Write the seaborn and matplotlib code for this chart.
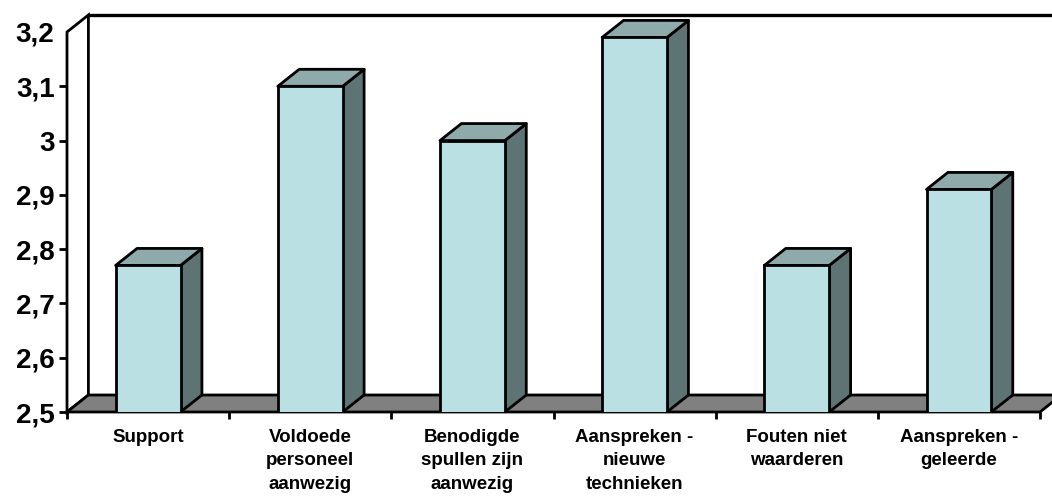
import numpy as np
import matplotlib
matplotlib.use("Agg")
import matplotlib.pyplot as plt
from matplotlib.patches import Polygon
import seaborn as sns

# Data
categorieen = ['Support', 'Voldoede\npersoneel\naanwezig', 'Benodigde\nspullen zijn\naanwezig',
               'Aanspreken -\nnieuwe\ntechnieken', 'Fouten niet\nwaarderen', 'Aanspreken -\ngeleerde']
waarden = [2.77, 3.10, 3.00, 3.19, 2.77, 2.91]
y_ticks = [2.5, 2.6, 2.7, 2.8, 2.9, 3.0, 3.1, 3.2]
y_labels = ['2,5', '2,6', '2,7', '2,8', '2,9', '3', '3,1', '3,2']

# Style
sns.set_style("white")
plt.rcParams['font.family'] = ['Liberation Sans', 'DejaVu Sans']
plt.rcParams['font.weight'] = 'bold'
plt.rcParams['text.color'] = 'black'
plt.rcParams['xtick.color'] = 'black'
plt.rcParams['ytick.color'] = 'black'

kleur_voor = '#BBE0E3'
kleur_zij = '#5E7373'
kleur_top = '#8FAAAA'
kleur_vloer = '#808080'

ymin, ymax = 2.5, 3.2
dx, dy = 0.132, 0.0313          # depth offset (3D look)
bw = 0.40                        # bar width
lw = 2.0

fig = plt.figure(figsize=(10.52, 4.98), dpi=100)
ax = fig.add_axes([67/1052, 86/498, 985/1052, 397/498])

# ============================================================================
# Walls and floor
# ============================================================================
n = len(categorieen)
x0, x1 = -0.5, n - 0.5
wand = Polygon([(x0, ymin), (x0, ymax), (x0 + dx, ymax + dy), (x0 + dx, ymin + dy)],
               closed=True, facecolor='white', edgecolor='black', lw=lw, zorder=1, clip_on=False)
ax.add_patch(wand)
vloer = Polygon([(x0, ymin), (x1, ymin), (x1 + dx, ymin + dy), (x0 + dx, ymin + dy)],
                closed=True, facecolor=kleur_vloer, edgecolor='black', lw=lw, zorder=1.5, clip_on=False)
ax.add_patch(vloer)
ax.plot([x0 + dx, x1 + 1], [ymax + dy, ymax + dy], color='black', lw=2.4, zorder=1,
        clip_on=False, solid_capstyle='butt')

# ============================================================================
# Bars (front faces via seaborn, side/top faces as polygons)
# ============================================================================
sns.barplot(x=list(range(n)), y=waarden, width=bw, color=kleur_voor, saturation=1,
            edgecolor='black', linewidth=lw, ax=ax, native_scale=True, zorder=4)

for i, v in enumerate(waarden):
    l, r = i - bw / 2, i + bw / 2
    zij = Polygon([(r, ymin), (r, v), (r + dx, v + dy), (r + dx, ymin + dy)], closed=True,
                  facecolor=kleur_zij, edgecolor='black', lw=lw, zorder=3, joinstyle='round')
    top = Polygon([(l, v), (r, v), (r + dx, v + dy), (l + dx, v + dy)], closed=True,
                  facecolor=kleur_top, edgecolor='black', lw=lw, zorder=3, joinstyle='round')
    ax.add_patch(zij)
    ax.add_patch(top)

# ============================================================================
# Axes, ticks and labels
# ============================================================================
ax.set_xlim(x0, x0 + 985 / 162.17)
ax.set_ylim(ymin, ymax + dy)
for s in ax.spines.values():
    s.set_visible(False)

ax.set_yticks(y_ticks)
ax.set_yticklabels(y_labels, fontsize=20, fontweight='bold', color='black')
ax.tick_params(axis='y', direction='out', length=6, width=lw, pad=3, left=True)
ax.yaxis.get_major_ticks()[-1].tick1line.set_visible(False)

ax.set_xticks(range(n))
ax.set_xticklabels(categorieen, fontsize=13.5, fontweight='bold', linespacing=1.5, color='black')
ax.set_xticks(np.arange(x0, x1 + 0.01, 1), minor=True)
ax.tick_params(axis='x', which='major', length=0, pad=12, bottom=True)
ax.tick_params(axis='x', which='minor', direction='out', length=5, width=lw, bottom=True)
ax.set_xlabel('')
ax.set_ylabel('')
ax.grid(False)

plt.savefig('out.png', dpi=100)
